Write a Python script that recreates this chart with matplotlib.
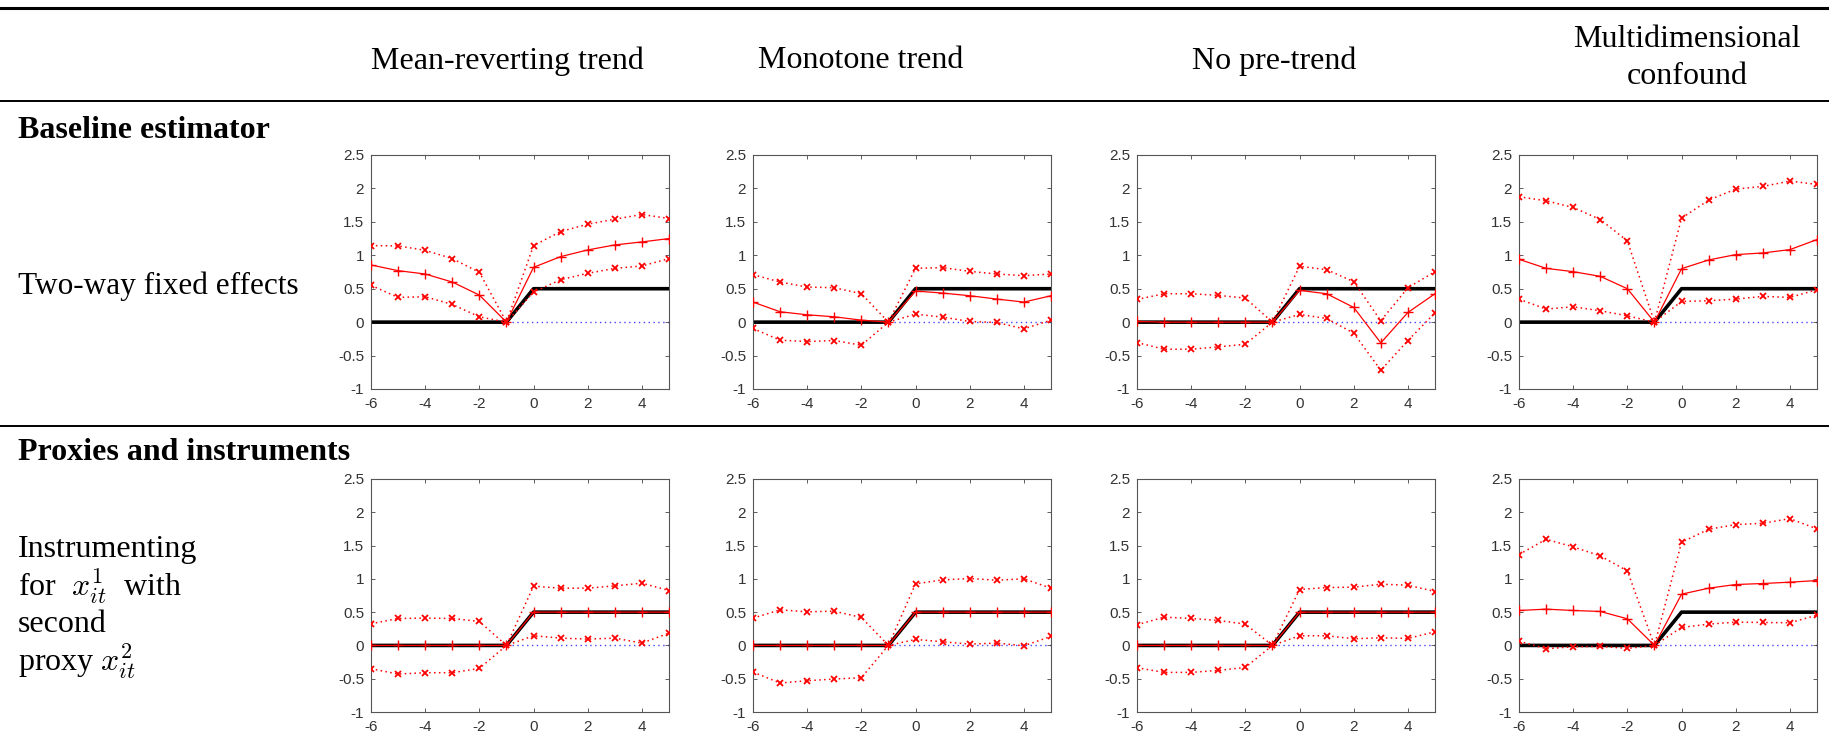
import numpy as np
import matplotlib
matplotlib.use("Agg")
import matplotlib.pyplot as plt
from matplotlib.lines import Line2D

plt.rcParams["mathtext.fontset"] = "cm"

# event time
periods = [-6, -5, -4, -3, -2, -1, 0, 1, 2, 3, 4, 5]
truth = [0, 0, 0, 0, 0, 0, 0.5, 0.5, 0.5, 0.5, 0.5, 0.5]

col_titles = ["Mean-reverting trend", "Monotone trend", "No pre-trend",
              "Multidimensional\nconfound"]

# baseline estimator (two-way fixed effects)
base_est = [
    [0.855, 0.77, 0.72, 0.60, 0.405, 0, 0.82, 0.98, 1.08, 1.155, 1.20, 1.25],
    [0.30, 0.155, 0.11, 0.08, 0.03, 0, 0.465, 0.435, 0.395, 0.345, 0.30, 0.395],
    [0.01, 0, 0, 0, 0, 0, 0.475, 0.425, 0.22, -0.31, 0.145, 0.425],
    [0.94, 0.805, 0.755, 0.685, 0.50, 0, 0.80, 0.93, 1.01, 1.035, 1.085, 1.235],
]
base_hi = [
    [1.145, 1.14, 1.075, 0.95, 0.745, 0, 1.145, 1.355, 1.465, 1.54, 1.61, 1.55],
    [0.71, 0.60, 0.525, 0.515, 0.425, 0, 0.805, 0.815, 0.76, 0.72, 0.695, 0.72],
    [0.34, 0.425, 0.425, 0.40, 0.36, 0, 0.835, 0.785, 0.605, 0.02, 0.515, 0.755],
    [1.875, 1.815, 1.715, 1.535, 1.215, 0, 1.555, 1.825, 1.99, 2.03, 2.11, 2.06],
]
base_lo = [
    [0.55, 0.37, 0.38, 0.265, 0.08, 0, 0.45, 0.635, 0.73, 0.805, 0.84, 0.95],
    [-0.095, -0.27, -0.29, -0.275, -0.345, 0, 0.12, 0.075, 0.01, -0.005, -0.10, 0.03],
    [-0.305, -0.405, -0.405, -0.37, -0.33, 0, 0.115, 0.055, -0.165, -0.72, -0.275, 0.14],
    [0.345, 0.195, 0.23, 0.17, 0.095, 0, 0.31, 0.32, 0.345, 0.385, 0.37, 0.485],
]

# proxies and instruments
iv_est = [
    [0, 0, 0, 0, 0, 0, 0.5, 0.5, 0.5, 0.5, 0.5, 0.5],
    [0, 0, 0, 0, 0, 0, 0.5, 0.5, 0.5, 0.5, 0.5, 0.5],
    [0, 0, 0, 0, 0, 0, 0.5, 0.5, 0.5, 0.5, 0.5, 0.5],
    [0.525, 0.545, 0.525, 0.51, 0.40, 0, 0.77, 0.86, 0.915, 0.93, 0.95, 0.975],
]
iv_hi = [
    [0.325, 0.405, 0.41, 0.405, 0.36, 0, 0.89, 0.86, 0.86, 0.895, 0.935, 0.825],
    [0.41, 0.535, 0.505, 0.515, 0.42, 0, 0.925, 0.985, 1.005, 0.98, 1.0, 0.86],
    [0.31, 0.425, 0.405, 0.375, 0.32, 0, 0.84, 0.87, 0.875, 0.92, 0.905, 0.81],
    [1.365, 1.595, 1.48, 1.345, 1.12, 0, 1.55, 1.745, 1.815, 1.835, 1.905, 1.75],
]
iv_lo = [
    [-0.35, -0.43, -0.41, -0.41, -0.345, 0, 0.145, 0.11, 0.095, 0.11, 0.035, 0.185],
    [-0.40, -0.565, -0.53, -0.505, -0.485, 0, 0.09, 0.055, 0.02, 0.035, -0.005, 0.135],
    [-0.335, -0.405, -0.405, -0.375, -0.33, 0, 0.145, 0.145, 0.10, 0.115, 0.105, 0.205],
    [0.065, -0.05, -0.02, -0.015, -0.045, 0, 0.27, 0.32, 0.35, 0.345, 0.34, 0.455],
]

W, H = 1829, 748
SERIF = "Liberation Serif"
SANS = "Liberation Sans"
FS = 23


def panel(ax, est, hi, lo):
    ax.plot([periods[0], periods[-1]], [0, 0], color="#4444ff", lw=1.0,
            ls=(0, (1, 2.5)), zorder=1)
    ax.plot(periods, truth, color="black", lw=2.6, zorder=2)
    for band in (hi, lo):
        ax.plot(periods, band, color="red", lw=1.1, ls=(0, (1, 2.2)),
                marker="x", ms=4.5, mew=1.3, zorder=3)
    ax.plot(periods, est, color="red", lw=0.9, marker="+", ms=7, mew=1.0,
            zorder=4)
    ax.set_xlim(-6, 5)
    ax.set_ylim(-1, 2.5)
    ax.set_xticks([-6, -4, -2, 0, 2, 4])
    ax.set_yticks([-1, -0.5, 0, 0.5, 1, 1.5, 2, 2.5])
    ax.set_yticklabels(["-1", "-0.5", "0", "0.5", "1", "1.5", "2", "2.5"],
                       fontsize=11, family=SANS, color="#333333")
    ax.set_xticklabels(["-6", "-4", "-2", "0", "2", "4"],
                       fontsize=11, family=SANS, color="#333333")
    ax.tick_params(direction="in", top=True, right=True, length=3,
                   width=0.6, color="#444444")
    ax.tick_params(axis="x", pad=6)
    ax.tick_params(axis="y", pad=5)
    for s in ax.spines.values():
        s.set_color("#555555")
        s.set_linewidth(0.8)


def main():
    fig = plt.figure(figsize=(W / 100, H / 100), dpi=100)

    lefts = [371, 753, 1137, 1519]
    aw = 298
    rows = [(155, 389, base_est, base_hi, base_lo),
            (479, 712, iv_est, iv_hi, iv_lo)]
    for top, bot, est, hi, lo in rows:
        for j, left in enumerate(lefts):
            ax = fig.add_axes([left / W, 1 - bot / H, aw / W, (bot - top) / H])
            panel(ax, est[j], hi[j], lo[j])

    # table rules
    for y, lw in [(8, 2.2), (101, 1.4), (426, 1.4)]:
        fig.add_artist(Line2D([0, 1], [1 - y / H, 1 - y / H], color="black",
                              lw=lw, transform=fig.transFigure))

    centers = [507, 861, 1274, 1687]
    for cx, t in zip(centers, col_titles):
        cy = 58 if "\n" in t else 61
        fig.text(cx / W, 1 - cy / H, t, ha="center", va="center",
                 family=SERIF, fontsize=FS, linespacing=1.36)

    fig.text(18 / W, 1 - 131 / H, "Baseline estimator", ha="left",
             va="center", family=SERIF, fontsize=FS, fontweight="bold")
    fig.text(18 / W, 1 - 453 / H, "Proxies and instruments", ha="left",
             va="center", family=SERIF, fontsize=FS, fontweight="bold")
    fig.text(18 / W, 1 - 286 / H, "Two-way fixed effects", ha="left",
             va="center", family=SERIF, fontsize=22.5)

    lines = ["Instrumenting", r"for  $x^1_{it}$  with", "second",
             r"proxy $x^2_{it}$"]
    for k, t in enumerate(lines):
        fig.text(18 / W, 1 - (549 + 37.5 * k) / H, t, ha="left", va="center",
                 family=SERIF, fontsize=FS)

    fig.savefig("out.png", dpi=100)


if __name__ == "__main__":
    main()
